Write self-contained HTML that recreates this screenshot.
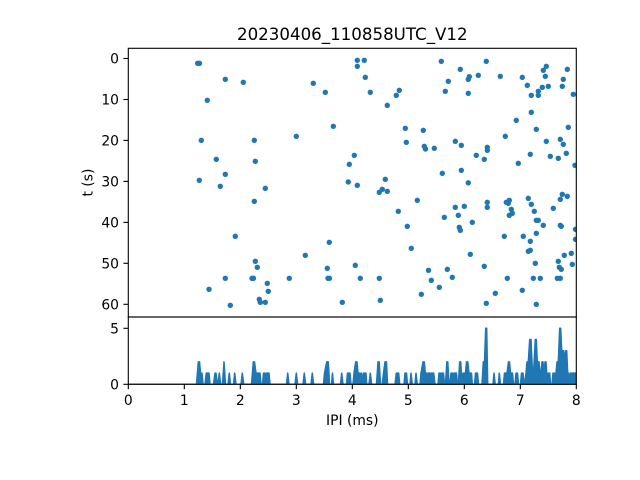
<!DOCTYPE html>
<html>
<head>
<meta charset="utf-8">
<style>
html,body{margin:0;padding:0;background:#fff;}
svg{display:block;}
text{font-family:"DejaVu Sans","Liberation Sans",sans-serif;fill:#000;}
</style>
</head>
<body>
<svg width="640" height="480" viewBox="0 0 640 480" xmlns="http://www.w3.org/2000/svg">
<defs>
<clipPath id="c1"><rect x="128.3" y="48.3" width="448" height="268.7"/></clipPath>
<clipPath id="c2"><rect x="128.3" y="317" width="448" height="67.6"/></clipPath>
</defs>
<rect x="0" y="0" width="640" height="480" fill="#fff"/>
<text x="352.3" y="40" font-size="16.67" text-anchor="middle">20230406_110858UTC_V12</text>
<g clip-path="url(#c1)" fill="#1f77b4">
<circle cx="197.7" cy="63.3" r="2.7"/><circle cx="199.5" cy="63.3" r="2.7"/>
<circle cx="225.3" cy="79.3" r="2.7"/>
<circle cx="243.3" cy="82.3" r="2.7"/>
<circle cx="207.3" cy="100.3" r="2.7"/>
<circle cx="201.3" cy="140.3" r="2.7"/>
<circle cx="254.3" cy="140.3" r="2.7"/>
<circle cx="216.3" cy="159.3" r="2.7"/>
<circle cx="255.3" cy="161.3" r="2.7"/>
<circle cx="225.3" cy="174.3" r="2.7"/>
<circle cx="199.3" cy="180.3" r="2.7"/>
<circle cx="220.3" cy="186.3" r="2.7"/>
<circle cx="265.3" cy="188.3" r="2.7"/>
<circle cx="254.3" cy="201.3" r="2.7"/>
<circle cx="235.3" cy="236.3" r="2.7"/>
<circle cx="255.3" cy="261.3" r="2.7"/>
<circle cx="257.3" cy="267.3" r="2.7"/>
<circle cx="225.3" cy="278.3" r="2.7"/>
<circle cx="252" cy="278.3" r="2.7"/><circle cx="253.4" cy="278.3" r="2.7"/>
<circle cx="267.3" cy="283.3" r="2.7"/>
<circle cx="209" cy="289.3" r="2.7"/>
<circle cx="268.3" cy="291.3" r="2.7"/>
<circle cx="259.3" cy="299.3" r="2.7"/>
<circle cx="260.3" cy="302.3" r="2.7"/>
<circle cx="265.3" cy="302.3" r="2.7"/>
<circle cx="230.3" cy="305.3" r="2.7"/>
<circle cx="357.3" cy="60.3" r="2.7"/>
<circle cx="364.3" cy="60.3" r="2.7"/>
<circle cx="357.3" cy="66.3" r="2.7"/>
<circle cx="365.3" cy="77.3" r="2.7"/>
<circle cx="313.3" cy="83.3" r="2.7"/>
<circle cx="325.3" cy="92.3" r="2.7"/>
<circle cx="370.3" cy="92.3" r="2.7"/>
<circle cx="399.3" cy="90.3" r="2.7"/>
<circle cx="396.3" cy="95.3" r="2.7"/>
<circle cx="387.3" cy="105.3" r="2.7"/>
<circle cx="333.3" cy="126.3" r="2.7"/>
<circle cx="405.3" cy="128.3" r="2.7"/>
<circle cx="423.3" cy="130.3" r="2.7"/>
<circle cx="296.3" cy="136.3" r="2.7"/>
<circle cx="406.3" cy="142.3" r="2.7"/>
<circle cx="424.3" cy="146.3" r="2.7"/>
<circle cx="425.5" cy="149" r="2.7"/>
<circle cx="354.3" cy="155.3" r="2.7"/>
<circle cx="349.3" cy="164.3" r="2.7"/>
<circle cx="348.3" cy="182" r="2.7"/>
<circle cx="385.3" cy="179.3" r="2.7"/>
<circle cx="357.3" cy="185.3" r="2.7"/>
<circle cx="379.3" cy="192.3" r="2.7"/>
<circle cx="382.3" cy="189.3" r="2.7"/>
<circle cx="387.3" cy="191.3" r="2.7"/>
<circle cx="417.3" cy="200.3" r="2.7"/>
<circle cx="398.3" cy="211.3" r="2.7"/>
<circle cx="407.3" cy="226.3" r="2.7"/>
<circle cx="329.3" cy="242.3" r="2.7"/>
<circle cx="411.3" cy="248.3" r="2.7"/>
<circle cx="305.3" cy="255.3" r="2.7"/>
<circle cx="355.3" cy="265.3" r="2.7"/>
<circle cx="327.3" cy="268.3" r="2.7"/>
<circle cx="289.3" cy="278.3" r="2.7"/>
<circle cx="328" cy="278.3" r="2.7"/><circle cx="329.4" cy="278.3" r="2.7"/>
<circle cx="360.3" cy="278.3" r="2.7"/>
<circle cx="379.3" cy="278.3" r="2.7"/>
<circle cx="421.3" cy="294.3" r="2.7"/>
<circle cx="380.3" cy="300.3" r="2.7"/>
<circle cx="342.3" cy="302.3" r="2.7"/>
<circle cx="441.3" cy="61.3" r="2.7"/>
<circle cx="486.3" cy="61.3" r="2.7"/>
<circle cx="460.3" cy="69.3" r="2.7"/>
<circle cx="448.3" cy="81.3" r="2.7"/>
<circle cx="445.3" cy="91.3" r="2.7"/>
<circle cx="469.3" cy="76.7" r="2.7"/>
<circle cx="468.3" cy="79.3" r="2.7"/>
<circle cx="478.3" cy="75.3" r="2.7"/>
<circle cx="468.3" cy="93.3" r="2.7"/>
<circle cx="500.3" cy="76.3" r="2.7"/>
<circle cx="522.3" cy="77.3" r="2.7"/>
<circle cx="527.3" cy="85.3" r="2.7"/>
<circle cx="531.3" cy="95.3" r="2.7"/>
<circle cx="538.3" cy="91.3" r="2.7"/>
<circle cx="538.3" cy="95.3" r="2.7"/>
<circle cx="542.3" cy="87.3" r="2.7"/>
<circle cx="548.3" cy="86.3" r="2.7"/>
<circle cx="543.3" cy="70.3" r="2.7"/>
<circle cx="546.3" cy="66.3" r="2.7"/>
<circle cx="545.3" cy="76.3" r="2.7"/>
<circle cx="567.3" cy="69.3" r="2.7"/>
<circle cx="563.3" cy="79.3" r="2.7"/>
<circle cx="562.3" cy="86.3" r="2.7"/>
<circle cx="573.3" cy="94.3" r="2.7"/>
<circle cx="531.3" cy="112.3" r="2.7"/>
<circle cx="516.3" cy="120.3" r="2.7"/>
<circle cx="536.3" cy="129.3" r="2.7"/>
<circle cx="568.3" cy="127.3" r="2.7"/>
<circle cx="505.3" cy="136.3" r="2.7"/>
<circle cx="455.3" cy="141.3" r="2.7"/>
<circle cx="461.3" cy="145.3" r="2.7"/>
<circle cx="434.3" cy="148.3" r="2.7"/>
<circle cx="487.3" cy="147.3" r="2.7"/>
<circle cx="487.3" cy="150.3" r="2.7"/>
<circle cx="476.3" cy="155.3" r="2.7"/>
<circle cx="484.3" cy="159.3" r="2.7"/>
<circle cx="546.3" cy="141.3" r="2.7"/>
<circle cx="560.3" cy="139.3" r="2.7"/>
<circle cx="563.3" cy="144.3" r="2.7"/>
<circle cx="530.3" cy="154.3" r="2.7"/>
<circle cx="550.3" cy="156.3" r="2.7"/>
<circle cx="558.3" cy="158.3" r="2.7"/>
<circle cx="566.3" cy="153.3" r="2.7"/>
<circle cx="518.3" cy="163.3" r="2.7"/>
<circle cx="575" cy="165.3" r="2.7"/>
<circle cx="442.3" cy="173.3" r="2.7"/>
<circle cx="461.3" cy="170.3" r="2.7"/>
<circle cx="468.3" cy="182.8" r="2.7"/>
<circle cx="487.3" cy="202.3" r="2.7"/>
<circle cx="487.3" cy="207.3" r="2.7"/>
<circle cx="455.3" cy="207.3" r="2.7"/>
<circle cx="464.3" cy="206.3" r="2.7"/>
<circle cx="444.3" cy="217.3" r="2.7"/>
<circle cx="458.3" cy="215.3" r="2.7"/>
<circle cx="459.3" cy="227.3" r="2.7"/>
<circle cx="460.3" cy="230.3" r="2.7"/>
<circle cx="472.3" cy="222.3" r="2.7"/>
<circle cx="506.3" cy="202.3" r="2.7"/>
<circle cx="509.3" cy="200.3" r="2.7"/>
<circle cx="508.3" cy="203.3" r="2.7"/>
<circle cx="511.3" cy="209.3" r="2.7"/>
<circle cx="512.3" cy="213.3" r="2.7"/>
<circle cx="509.3" cy="215.3" r="2.7"/>
<circle cx="528.3" cy="198.3" r="2.7"/>
<circle cx="531.3" cy="204.3" r="2.7"/>
<circle cx="534.3" cy="211.3" r="2.7"/>
<circle cx="536.3" cy="220.3" r="2.7"/>
<circle cx="538.3" cy="220.3" r="2.7"/>
<circle cx="543.3" cy="225.3" r="2.7"/>
<circle cx="536.3" cy="233.3" r="2.7"/>
<circle cx="523.3" cy="236.3" r="2.7"/>
<circle cx="530.3" cy="241.3" r="2.7"/>
<circle cx="528.3" cy="251.3" r="2.7"/>
<circle cx="530.3" cy="250.3" r="2.7"/>
<circle cx="504.3" cy="236.3" r="2.7"/>
<circle cx="470.3" cy="254.3" r="2.7"/>
<circle cx="562.3" cy="194.3" r="2.7"/>
<circle cx="560.3" cy="199.3" r="2.7"/>
<circle cx="567.3" cy="196.3" r="2.7"/>
<circle cx="553.3" cy="208.3" r="2.7"/>
<circle cx="560.3" cy="225.3" r="2.7"/>
<circle cx="561.3" cy="226.3" r="2.7"/>
<circle cx="575.5" cy="229.3" r="2.7"/>
<circle cx="575.5" cy="239.3" r="2.7"/>
<circle cx="571.3" cy="253.3" r="2.7"/>
<circle cx="564.3" cy="255.3" r="2.7"/>
<circle cx="558.3" cy="261.3" r="2.7"/>
<circle cx="572.3" cy="264.3" r="2.7"/>
<circle cx="559.3" cy="267.3" r="2.7"/>
<circle cx="561.3" cy="269.3" r="2.7"/>
<circle cx="535.3" cy="263.3" r="2.7"/>
<circle cx="428.5" cy="270.3" r="2.7"/>
<circle cx="447.3" cy="269.3" r="2.7"/>
<circle cx="484.3" cy="266.3" r="2.7"/>
<circle cx="431.3" cy="280.3" r="2.7"/>
<circle cx="452.3" cy="277.3" r="2.7"/>
<circle cx="507.3" cy="278.3" r="2.7"/>
<circle cx="533.3" cy="278.3" r="2.7"/>
<circle cx="540.3" cy="278.3" r="2.7"/>
<circle cx="557.3" cy="278.3" r="2.7"/>
<circle cx="560.3" cy="278.3" r="2.7"/>
<circle cx="439.3" cy="287.3" r="2.7"/>
<circle cx="522.3" cy="290.3" r="2.7"/>
<circle cx="495.3" cy="293.3" r="2.7"/>
<circle cx="486.3" cy="303.3" r="2.7"/>
<circle cx="536.3" cy="304.3" r="2.7"/>
</g>
<g clip-path="url(#c2)">
<path fill="#1f77b4" stroke="#1f77b4" stroke-width="1.5" stroke-linejoin="round" d="M128,384.3 L196.5,384.3 L198.3,361.9 L199.5,361.9 L200.5,373.1 L202,373.1 L203,384.3 L205,384.3 L206.3,373.1 L209,373.1 L210,384.3 L213.5,384.3 L215,373.1 L216,373.1 L217.3,384.3 L218,384.3 L219.3,373.1 L220.7,384.3 L222.5,384.3 L224,361.9 L225.5,384.3 L228,384.3 L229.3,373.1 L230.5,384.3 L233.5,384.3 L234.7,373.1 L236,384.3 L241,384.3 L242.3,373.1 L243.7,384.3 L251.5,384.3 L253.3,361.9 L254.5,361.9 L256,373.1 L260,373.1 L261,384.3 L262.5,384.3 L263.5,373.1 L265,373.1 L265.8,384.3 L266.5,373.1 L269,373.1 L270,384.3 L286.5,384.3 L287.7,373.1 L289,384.3 L295,384.3 L296.3,373.1 L297.6,384.3 L303,384.3 L304.3,373.1 L305.6,384.3 L311,384.3 L312.3,373.1 L313.6,384.3 L323.5,384.3 L324.5,373.1 L326.7,361.9 L328.3,361.9 L329.5,384.3 L331.5,384.3 L332.5,373.1 L333.5,384.3 L340.5,384.3 L341.7,373.1 L343,384.3 L346.5,384.3 L347.5,373.1 L350,373.1 L351,384.3 L353,384.3 L354,373.1 L355.7,361.9 L357,361.9 L358,373.1 L360,373.1 L360.7,384.3 L361.5,373.1 L362.5,384.3 L363.5,373.1 L366,373.1 L366.7,384.3 L369,384.3 L370.3,373.1 L371.6,384.3 L376.5,384.3 L378,361.9 L379.2,361.9 L380.5,384.3 L382.3,384.3 L383.5,373.1 L385,361.9 L386.5,361.9 L387.5,384.3 L395,384.3 L396.3,373.1 L398.7,373.1 L399.7,384.3 L404,384.3 L405,373.1 L406.5,373.1 L407.5,384.3 L410,384.3 L411,373.1 L412.3,384.3 L415,384.3 L416,373.1 L417.3,384.3 L420,384.3 L421,373.1 L423,361.9 L424.3,361.9 L425.3,373.1 L426.7,373.1 L427.3,384.3 L428,373.1 L430,373.1 L430.7,384.3 L431.3,373.1 L433.7,373.1 L435,384.3 L438,384.3 L439,373.1 L440.5,373.1 L441.3,384.3 L441.8,373.1 L443.5,373.1 L444.5,384.3 L445.5,384.3 L446.8,361.9 L447.8,361.9 L449,384.3 L450,384.3 L451,373.1 L452.5,373.1 L453.2,384.3 L454,373.1 L456.5,373.1 L457.3,384.3 L458.3,384.3 L459.7,361.9 L460.7,361.9 L462,384.3 L463,373.1 L465.5,373.1 L466.5,361.9 L467.8,361.9 L469,373.1 L471.5,373.1 L472.3,384.3 L474.5,384.3 L475.5,373.1 L477.5,373.1 L478.5,384.3 L482,384.3 L483.3,361.9 L484.5,361.9 L485.7,328.3 L486.7,328.3 L487.7,384.3 L493,384.3 L494,373.1 L495.2,384.3 L498.3,384.3 L499.3,373.1 L500.5,384.3 L503.5,384.3 L504.5,373.1 L507,373.1 L508.5,361.9 L509.5,361.9 L510.5,373.1 L512.5,373.1 L513.5,384.3 L515,384.3 L516,373.1 L517.5,373.1 L518.5,384.3 L520.5,384.3 L521.5,373.1 L523,373.1 L524,384.3 L524.5,384.3 L526,373.1 L527,361.9 L528.3,361.9 L529.7,339.5 L531,339.5 L532.5,373.1 L533.5,373.1 L535.3,339.5 L536.3,339.5 L537.3,361.9 L539,361.9 L540,373.1 L541,373.1 L542,361.9 L543,361.9 L544,373.1 L545,361.9 L546,361.9 L546.7,373.1 L547.5,384.3 L548.3,373.1 L549.7,373.1 L550.5,384.3 L552,384.3 L553,373.1 L554.5,373.1 L555.3,384.3 L556,373.1 L557,361.9 L558.3,361.9 L559.7,328.3 L560.7,328.3 L561.7,350.7 L563.7,350.7 L564.3,361.9 L565.7,350.7 L566.7,350.7 L567.7,373.1 L568.5,373.1 L569.3,384.3 L570.3,373.1 L578,373.1 L578,384.3 Z"/>
</g>
<rect x="128.3" y="48.3" width="448" height="268.7" fill="none" stroke="#000" stroke-width="1.1"/>
<rect x="128.3" y="317" width="448" height="67.3" fill="none" stroke="#000" stroke-width="1.1"/>
<g stroke="#000" stroke-width="1.1">
<line x1="123.4" y1="58.5" x2="128.3" y2="58.5"/>
<line x1="123.4" y1="99.5" x2="128.3" y2="99.5"/>
<line x1="123.4" y1="140.4" x2="128.3" y2="140.4"/>
<line x1="123.4" y1="181.4" x2="128.3" y2="181.4"/>
<line x1="123.4" y1="222.4" x2="128.3" y2="222.4"/>
<line x1="123.4" y1="263.3" x2="128.3" y2="263.3"/>
<line x1="123.4" y1="304.3" x2="128.3" y2="304.3"/>
<line x1="123.4" y1="328.3" x2="128.3" y2="328.3"/>
<line x1="123.4" y1="384.3" x2="128.3" y2="384.3"/>
<line x1="128.3" y1="384.3" x2="128.3" y2="389.2"/>
<line x1="184.3" y1="384.3" x2="184.3" y2="389.2"/>
<line x1="240.3" y1="384.3" x2="240.3" y2="389.2"/>
<line x1="296.3" y1="384.3" x2="296.3" y2="389.2"/>
<line x1="352.3" y1="384.3" x2="352.3" y2="389.2"/>
<line x1="408.3" y1="384.3" x2="408.3" y2="389.2"/>
<line x1="464.3" y1="384.3" x2="464.3" y2="389.2"/>
<line x1="520.3" y1="384.3" x2="520.3" y2="389.2"/>
<line x1="576.3" y1="384.3" x2="576.3" y2="389.2"/>
</g>
<g font-size="13.89" text-anchor="end">
<text x="119" y="63.5">0</text>
<text x="119" y="104.5">10</text>
<text x="119" y="145.4">20</text>
<text x="119" y="186.4">30</text>
<text x="119" y="227.4">40</text>
<text x="119" y="268.3">50</text>
<text x="119" y="309.3">60</text>
<text x="119" y="333.3">5</text>
<text x="119" y="389.3">0</text>
</g>
<g font-size="13.89" text-anchor="middle">
<text x="128.3" y="405">0</text>
<text x="184.3" y="405">1</text>
<text x="240.3" y="405">2</text>
<text x="296.3" y="405">3</text>
<text x="352.3" y="405">4</text>
<text x="408.3" y="405">5</text>
<text x="464.3" y="405">6</text>
<text x="520.3" y="405">7</text>
<text x="576.3" y="405">8</text>
</g>
<text x="352.3" y="425" font-size="13.89" text-anchor="middle">IPI (ms)</text>
<text transform="translate(92.5,182.6) rotate(-90)" x="0" y="0" font-size="13.89" text-anchor="middle">t (s)</text>
</svg>
</body>
</html>
